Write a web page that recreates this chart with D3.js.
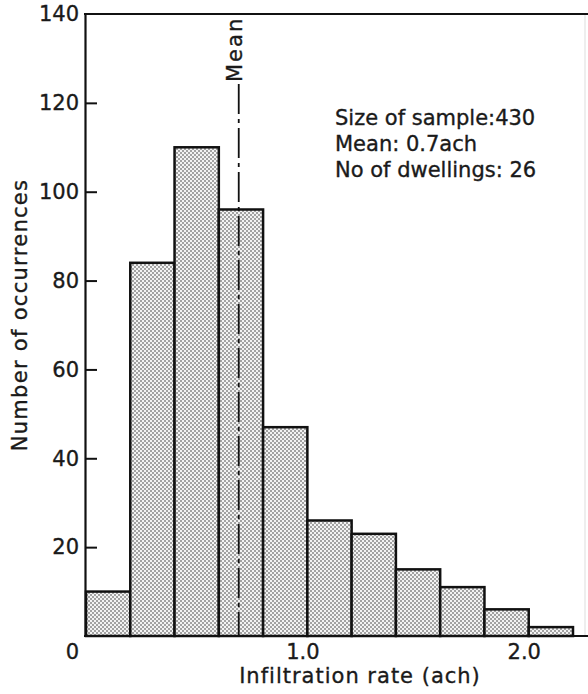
<!DOCTYPE html>
<html>
<head>
<meta charset="utf-8">
<script src="https://cdn.jsdelivr.net/npm/d3@7"></script>
<style>
body { margin: 0; background: #fff; }
svg text { font-family: "DejaVu Sans", sans-serif; fill: #1a1a1a; stroke: #1a1a1a; stroke-width: 0.35px; }
</style>
</head>
<body>
<div id="chart"></div>
<script>
// bins (lower edge, ach) and counts
var binStart = [0.0, 0.2, 0.4, 0.6, 0.8, 1.0, 1.2, 1.4, 1.6, 1.8, 2.0]
var counts = [10, 84, 110, 96, 47, 26, 23, 15, 11, 6, 2]
var binWidth = 0.2
var yTicks = [20, 40, 60, 80, 100, 120, 140]
var xTicks = [0, 1, 2]
var meanRate = 0.69
var notes = ["Size of sample:430", "Mean: 0.7ach", "No of dwellings: 26"]

var w = 588, h = 694

var x = d3.scaleLinear().domain([0, 2.2]).range([86, 573])
var y = d3.scaleLinear().domain([0, 140]).range([636, 14])

var svg = d3.select("#chart").append("svg")
    .attr("width", w)
    .attr("height", h)

/* stipple fill, like the printed screen */
var pat = svg.append("defs").append("pattern")
    .attr("id", "stipple")
    .attr("patternUnits", "userSpaceOnUse")
    .attr("width", 4).attr("height", 4)
pat.append("rect").attr("width", 4).attr("height", 4).attr("fill", "#f3f3f3")
pat.append("circle").attr("cx", 1).attr("cy", 1).attr("r", 0.8).attr("fill", "#3a3a3a")
pat.append("circle").attr("cx", 3).attr("cy", 3).attr("r", 0.8).attr("fill", "#3a3a3a")

// faint frame edge on the right
svg.append("line")
    .attr("x1", 585).attr("x2", 585)
    .attr("y1", 14).attr("y2", 636)
    .attr("stroke", "#ddd").attr("stroke-width", 1)

// bars
svg.append("g").attr("class", "bars")
    .selectAll("rect")
    .data(counts)
    .enter().append("rect")
    .attr("x", function(d, i) { return x(binStart[i]) })
    .attr("width", function(d, i) { return x(binStart[i] + binWidth) - x(binStart[i]) })
    .attr("y", function(d) { return y(d) })
    .attr("height", function(d) { return y(0) - y(d) })
    .attr("fill", "url(#stipple)")
    .attr("stroke", "#111")
    .attr("stroke-width", 2.5)

// mean line
svg.append("line")
    .attr("x1", x(meanRate)).attr("x2", x(meanRate))
    .attr("y1", 84).attr("y2", y(0))
    .attr("stroke", "#111")
    .attr("stroke-width", 1.8)
    .attr("stroke-dasharray", "30,5,4,5")

svg.append("text")
    .attr("transform", "translate(" + (x(meanRate) + 3) + ",82) rotate(-90)")
    .attr("font-size", 21)
    .attr("letter-spacing", 2)
    .text("Mean")

// y axis, ticks pointing inward
var yAxis = d3.axisLeft(y)
    .tickValues(yTicks)
    .tickSizeInner(-12)
    .tickSizeOuter(0)
    .tickPadding(6)

var gy = svg.append("g")
    .attr("transform", "translate(85,0)")
    .call(yAxis)
gy.select(".domain").attr("stroke", "#111").attr("stroke-width", 2.2)
gy.selectAll(".tick line").attr("stroke", "#111").attr("stroke-width", 2)
gy.selectAll(".tick").filter(function(d) { return d == 140 }).select("line").remove()
gy.selectAll(".tick text")
    .attr("font-size", 21)
    .attr("font-family", null)
    .attr("fill", null)

// x axis, labels only
var xAxis = d3.axisBottom(x)
    .tickValues(xTicks)
    .tickSize(0)
    .tickPadding(8)
    .tickFormat(function(d) { return d == 0 ? "0" : d3.format(".1f")(d) })

var gx = svg.append("g")
    .attr("transform", "translate(0,636)")
    .call(xAxis)
gx.select(".domain").remove()
gx.selectAll(".tick text")
    .attr("font-size", 21)
    .attr("font-family", null)
    .attr("fill", null)
    .attr("x", function(d) { return d == 0 ? -14 : -5 })

// baseline and top border
svg.append("line")
    .attr("x1", 84).attr("x2", 588)
    .attr("y1", y(0)).attr("y2", y(0))
    .attr("stroke", "#111").attr("stroke-width", 2.2)
svg.append("line")
    .attr("x1", 84).attr("x2", 588)
    .attr("y1", y(140)).attr("y2", y(140))
    .attr("stroke", "#111").attr("stroke-width", 2)

// axis titles
svg.append("text")
    .attr("x", 360).attr("y", 683)
    .attr("text-anchor", "middle")
    .attr("font-size", 21)
    .attr("letter-spacing", 1)
    .text("Infiltration rate (ach)")

svg.append("text")
    .attr("transform", "translate(27,315) rotate(-90)")
    .attr("text-anchor", "middle")
    .attr("font-size", 21)
    .attr("letter-spacing", 1.3)
    .text("Number of occurrences")

// sample notes
svg.append("g").selectAll("text")
    .data(notes)
    .enter().append("text")
    .attr("x", 335)
    .attr("y", function(d, i) { return 125 + i * 26 })
    .attr("font-size", 21)
    .text(function(d) { return d })
</script>
</body>
</html>
